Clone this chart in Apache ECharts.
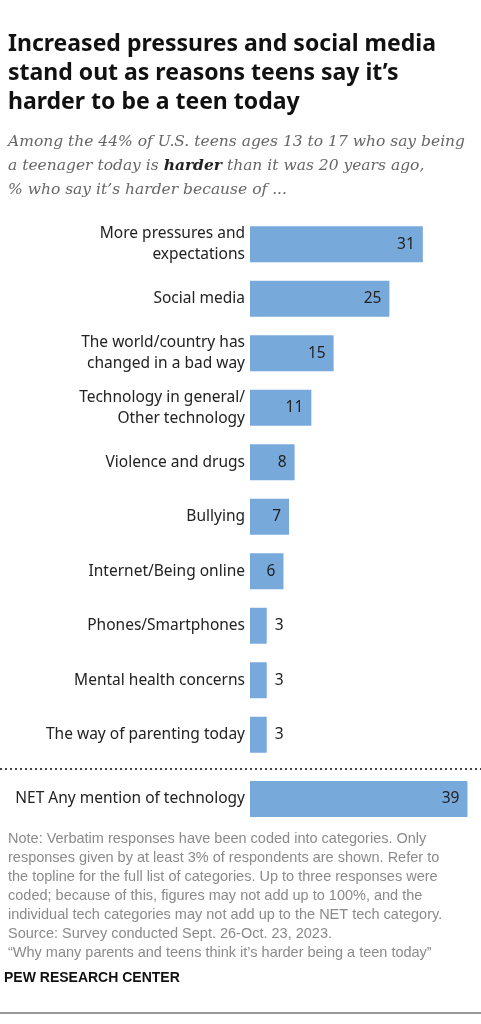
<!DOCTYPE html>
<html><head><meta charset="utf-8">
<script src="https://cdn.jsdelivr.net/npm/echarts@6/dist/echarts.min.js"></script>
<style>body{margin:0;background:#fff}#c{width:481px;height:1024px}</style>
</head><body><div id="c"></div>
<script>
const categories = ['More pressures and\nexpectations', 'Social media', 'The world/country has\nchanged in a bad way',
  'Technology in general/\nOther technology', 'Violence and drugs', 'Bullying', 'Internet/Being online',
  'Phones/Smartphones', 'Mental health concerns', 'The way of parenting today'];
const values = [31, 25, 15, 11, 8, 7, 6, 3, 3, 3];
const netCategory = ['NET Any mention of technology'];
const netValues = [39];

const barColor = '#78a9db';
const chart = echarts.init(document.getElementById('c'));

function labelFor(v) {
  return v > 4 ? {show: true, position: 'insideRight', color: '#222', fontSize: 15.5, fontFamily: 'Noto Sans', distance: 8}
               : {show: true, position: 'right', color: '#222', fontSize: 15.5, fontFamily: 'Noto Sans', distance: 8};
}

const note = 'Note: Verbatim responses have been coded into categories. Only\nresponses given by at least 3% of respondents are shown. Refer to\nthe topline for the full list of categories. Up to three responses were\ncoded; because of this, figures may not add up to 100%, and the\nindividual tech categories may not add up to the NET tech category.\nSource: Survey conducted Sept. 26-Oct. 23, 2023.\n\u201cWhy many parents and teens think it\u2019s harder being a teen today\u201d';

chart.setOption({
  animation: false,
  grid: [
    {left: 250, width: 223, top: 217, height: 545},
    {left: 250, width: 223, top: 772, height: 54}
  ],
  xAxis: [
    {gridIndex: 0, type: 'value', min: 0, max: 40, show: false},
    {gridIndex: 1, type: 'value', min: 0, max: 40, show: false}
  ],
  yAxis: [
    {gridIndex: 0, type: 'category', inverse: true, data: categories,
     axisLine: {show: false}, axisTick: {show: false},
     axisLabel: {color: '#222', fontSize: 15.5, fontFamily: 'Noto Sans', lineHeight: 21, margin: 5}},
    {gridIndex: 1, type: 'category', data: netCategory,
     axisLine: {show: false}, axisTick: {show: false},
     axisLabel: {color: '#222', fontSize: 15.5, fontFamily: 'Noto Sans', margin: 5}}
  ],
  series: [
    {type: 'bar', xAxisIndex: 0, yAxisIndex: 0, barWidth: 36,
     data: values.map(v => ({value: v, label: labelFor(v)})), itemStyle: {color: barColor}},
    {type: 'bar', xAxisIndex: 1, yAxisIndex: 1, barWidth: 36,
     data: netValues.map(v => ({value: v, label: labelFor(v)})), itemStyle: {color: barColor}}
  ],
  graphic: [
    {type: 'text', left: 8, top: 30, style: {text: 'Increased pressures and social media\nstand out as reasons teens say it\u2019s\nharder to be a teen today',
      fill: '#111', font: 'bold 23px "Noto Sans"', lineHeight: 29}},
    {type: 'text', left: 8, top: 134, style: {rich: {n: {font: 'italic 15.5px "DejaVu Serif"', fill: '#666', lineHeight: 24},
      b: {font: 'italic bold 15.5px "DejaVu Serif"', fill: '#222', lineHeight: 24}},
      text: '{n|Among the 44% of U.S. teens ages 13 to 17 who say being}\n{n|a teenager today is }{b|harder}{n| than it was 20 years ago,}\n{n|% who say it\u2019s harder because of ...}'}},
    {type: 'line', shape: {x1: 0, y1: 769, x2: 481, y2: 769}, style: {stroke: '#444', lineWidth: 2, lineDash: [2, 3]}},
    {type: 'text', left: 8, top: 829, style: {text: note, fill: '#8a8a8a', font: '14.5px "Liberation Sans"', lineHeight: 19}},
    {type: 'text', left: 4, top: 971, style: {text: 'PEW RESEARCH CENTER', fill: '#111', font: 'bold 14px "Liberation Sans"'}},
    {type: 'line', shape: {x1: 0, y1: 1013, x2: 481, y2: 1013}, style: {stroke: '#333', lineWidth: 1}}
  ]
});
</script></body></html>
